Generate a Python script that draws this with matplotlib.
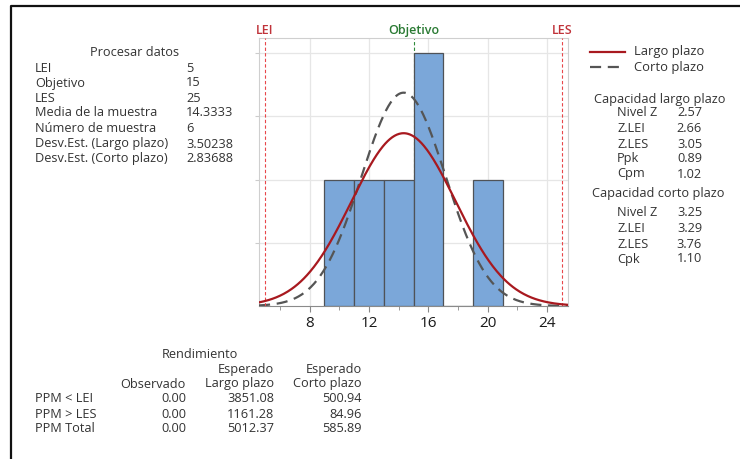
import matplotlib.pyplot as plt
import numpy as np
from matplotlib.lines import Line2D

plt.rcParams['font.family'] = ['Open Sans', 'DejaVu Sans']

# histogram bins (edges) and counts
bin_edges = [9, 11, 13, 15, 17, 19, 21]
counts = [1, 1, 1, 2, 0, 1]

# process data
lei, objetivo, les = 5, 15, 25
media = 14.3333
n_muestra = 6
sd_largo = 3.50238
sd_corto = 2.83688

proc_labels = ["LEI", "Objetivo", "LES", "Media de la muestra", "Número de muestra",
               "Desv.Est. (Largo plazo)", "Desv.Est. (Corto plazo)"]
proc_values = ["5", "15", "25", "14.3333", "6", "3.50238", "2.83688"]

largo_labels = ["Nivel Z", "Z.LEI", "Z.LES", "Ppk", "Cpm"]
largo_values = ["2.57", "2.66", "3.05", "0.89", "1.02"]
corto_labels = ["Nivel Z", "Z.LEI", "Z.LES", "Cpk"]
corto_values = ["3.25", "3.29", "3.76", "1.10"]

rend_rows = ["PPM < LEI", "PPM > LES", "PPM Total"]
observado = ["0.00", "0.00", "0.00"]
esp_largo = ["3851.08", "1161.28", "5012.37"]
esp_corto = ["500.94", "84.96", "585.89"]

W, H = 740, 459
TXT = '#333333'
FS = 9.2

fig = plt.figure(figsize=(W / 100, H / 100), dpi=100)

def px(x, y):
    return x / W, 1 - y / H

# y given as the visual middle of capital letters, placed on the baseline
def ftext(x, y, s, **kw):
    kw.setdefault('fontsize', FS)
    kw.setdefault('color', TXT)
    fig.text(*px(x, y + 4.5), s, va='baseline', **kw)

# axes
ax = fig.add_axes([259 / W, 1 - 306 / H, (568 - 259) / W, (306 - 38) / H])
widths = np.diff(bin_edges)
ax.bar(bin_edges[:-1], counts, width=widths, align='edge', color='#7ba7d9',
       edgecolor='#4f5257', linewidth=0.9, zorder=3)

xs = np.linspace(4.6, 25.4, 400)
scale = n_muestra * widths[0]
def normal(x, m, s):
    return scale * np.exp(-0.5 * ((x - m) / s) ** 2) / (s * np.sqrt(2 * np.pi))
ax.plot(xs, normal(xs, media, sd_largo), color='#a8191f', lw=1.6, zorder=5)
ax.plot(xs, normal(xs, media, sd_corto), color='#555555', lw=1.6,
        dashes=(5, 3), zorder=4)

ax.axvline(lei, color='#e8474a', lw=0.8, ls=(0, (3, 2)), zorder=4)
ax.axvline(les, color='#e8474a', lw=0.8, ls=(0, (3, 2)), zorder=4)
ax.axvline(objetivo, color='#2e8b3a', lw=0.8, ls=(0, (3, 2)), zorder=2)

ax.set_xlim(4.6, 25.4)
ax.set_ylim(0, 2.12)
ax.set_xticks([8, 12, 16, 20, 24])
ax.set_xticks([6, 10, 14, 18, 22], minor=True)
ax.set_yticks([0.5, 1, 1.5, 2])
ax.set_yticklabels([])
ax.tick_params(axis='y', length=3, color='#cccccc')
ax.tick_params(axis='x', which='major', length=4, color='#888888', labelsize=11,
               labelcolor='#1a1a1a', pad=3)
ax.tick_params(axis='x', which='minor', length=3, color='#888888')
ax.grid(True, color='#e6e6e6', lw=0.9, zorder=0)
for side in ['top', 'right', 'left']:
    ax.spines[side].set_color('#cfcfcf')
ax.spines['bottom'].set_color('#8a8a8a')

ax.text(lei, 1.005, "LEI", transform=ax.get_xaxis_transform(), ha='center', va='bottom',
        color='#c0333a', fontsize=9, fontweight='semibold')
ax.text(les, 1.005, "LES", transform=ax.get_xaxis_transform(), ha='center', va='bottom',
        color='#c0333a', fontsize=9, fontweight='semibold')
ax.text(objetivo, 1.005, "Objetivo", transform=ax.get_xaxis_transform(), ha='center',
        va='bottom', color='#2a7a33', fontsize=9, fontweight='semibold')

# left panel: process data
ftext(135, 52, "Procesar datos", ha='center')
rows_y = [67, 82, 97, 112, 128, 143, 158]
for lab, val, y in zip(proc_labels, proc_values, rows_y):
    ftext(35, y, lab)
    ftext(186, y, val)

# legend
fig.add_artist(Line2D([590 / W, 625 / W], [1 - 52 / H, 1 - 52 / H], color='#a8191f', lw=1.6))
fig.add_artist(Line2D([590 / W, 625 / W], [1 - 67 / H, 1 - 67 / H], color='#555555', lw=1.6,
                      dashes=(5, 3)))
ftext(634, 51, "Largo plazo", fontsize=9.4)
ftext(634, 66, "Corto plazo", fontsize=9.4)

# capability panels
ftext(660, 98, "Capacidad largo plazo", ha='center')
for lab, val, y in zip(largo_labels, largo_values, [112, 127, 143, 158, 173]):
    ftext(617, y, lab)
    ftext(702, y, val, ha='right')
ftext(658, 193, "Capacidad corto plazo", ha='center')
for lab, val, y in zip(corto_labels, corto_values, [212, 228, 243, 258]):
    ftext(617, y, lab)
    ftext(702, y, val, ha='right')

# bottom table: performance
ftext(200, 353, "Rendimiento", ha='center')
ftext(274, 368, "Esperado", ha='right')
ftext(362, 368, "Esperado", ha='right')
ftext(186, 383, "Observado", ha='right')
ftext(274, 383, "Largo plazo", ha='right')
ftext(362, 383, "Corto plazo", ha='right')
for lab, o, l, c, y in zip(rend_rows, observado, esp_largo, esp_corto, [398, 413, 428]):
    ftext(35, y, lab)
    ftext(186, y, o, ha='right')
    ftext(274, y, l, ha='right')
    ftext(362, y, c, ha='right')

# frame border
fig.add_artist(Line2D([11 / W, 11 / W, 1.0], [0.0, 1 - 6 / H, 1 - 6 / H], color='#111111', lw=1.6))

fig.savefig('out.png', dpi=100)
